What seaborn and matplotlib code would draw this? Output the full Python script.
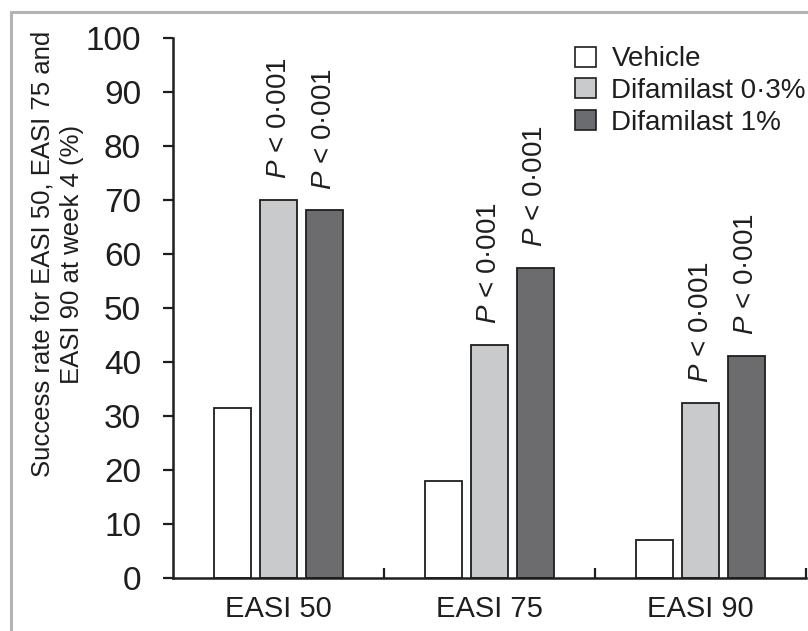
import pandas as pd
import matplotlib
matplotlib.use('Agg')
import matplotlib.pyplot as plt
import matplotlib.patches as mpatches
import seaborn as sns

# values
scales = ['EASI 50', 'EASI 75', 'EASI 90']
groups = ['Vehicle', 'Difamilast 0·3%', 'Difamilast 1%']
vehicle = [31.4, 17.9, 7.1]
difa_03 = [70.0, 43.2, 32.4]
difa_1 = [68.1, 57.5, 41.2]
p_label = '$P$ < 0·001'
colors = ['#ffffff', '#c9cacc', '#6b6c6f']

sns.set_style('white')
plt.rcParams['font.family'] = ['Liberation Sans', 'DejaVu Sans']
plt.rcParams['mathtext.fontset'] = 'custom'
plt.rcParams['mathtext.it'] = 'Liberation Sans:italic'
plt.rcParams['mathtext.rm'] = 'Liberation Sans'
ink = '#1e1e1e'

df = pd.DataFrame({
    'scale': scales * 3,
    'group': [g for g in groups for _ in scales],
    'rate': vehicle + difa_03 + difa_1,
})

fig = plt.figure(figsize=(8.08, 6.31), dpi=100)
ax = fig.add_axes([173 / 808, 1 - 578 / 631, 633 / 808, 540 / 631])

sns.barplot(data=df, x='scale', y='rate', hue='group', hue_order=groups,
            order=scales, palette=colors, width=0.654, gap=0.2,
            edgecolor=ink, linewidth=1.3, errorbar=None, ax=ax)

# p-value annotations above the active-treatment bars
offs = {'Difamilast 0·3%': 0.0, 'Difamilast 1%': 0.218}
for g, vals in [('Difamilast 0·3%', difa_03), ('Difamilast 1%', difa_1)]:
    for i, v in enumerate(vals):
        ax.text(i + offs[g], v + 3.8, p_label, rotation=90, ha='center',
                va='bottom', fontsize=20, color=ink)

ax.set_xlim(-0.5, 2.5)
ax.set_ylim(0, 100)
ax.set_yticks(range(0, 101, 10))
ax.tick_params(axis='y', labelsize=24, colors=ink, length=7, width=1.6,
               direction='out', left=True, pad=16)
ax.tick_params(axis='x', labelsize=21, colors=ink, length=0, pad=12)
ax.set_xticks([0.5, 1.5, 2.5], minor=True)
ax.tick_params(axis='x', which='minor', direction='in', length=7, width=1.6,
               bottom=True, color=ink)
ax.set_xlabel('')
ax.set_ylabel('Success rate for EASI 50, EASI 75 and\nEASI 90 at week 4 (%)',
              fontsize=18.5, color=ink, linespacing=1.3)
ax.yaxis.set_label_coords(-0.14, 0.6)

sns.despine(ax=ax)
for s in ['left', 'bottom']:
    ax.spines[s].set_linewidth(1.8)
    ax.spines[s].set_color(ink)

handles = [mpatches.Patch(facecolor=c, edgecolor=ink, linewidth=1.2) for c in colors]
ax.legend(handles, groups, loc='upper left', bbox_to_anchor=(0.618, 1.005),
          frameon=False, fontsize=20, handlelength=0.75, handleheight=0.75,
          handletextpad=0.55, labelspacing=0.2, borderaxespad=0,
          labelcolor=ink)

# light gray frame around the figure (cropped at right and bottom)
frame = mpatches.Rectangle((11 / 808, -0.2), 1.2, 1.2 - 12 / 631,
                           transform=fig.transFigure, fill=False,
                           edgecolor='#b4b4b4', linewidth=2.2, clip_on=False)
fig.patches.append(frame)

fig.savefig('out.png', dpi=100)
